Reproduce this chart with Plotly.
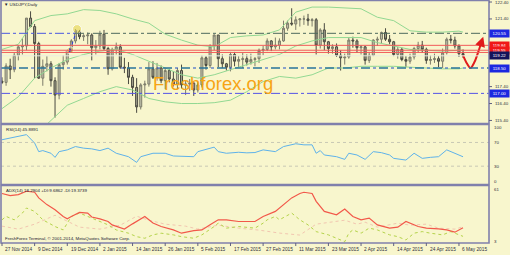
import plotly.graph_objects as go

# ---------------- data ----------------
date_labels = ["27 Nov 2014", "9 Dec 2014", "19 Dec 2014", "2 Jan 2015", "14 Jan 2015",
               "26 Jan 2015", "5 Feb 2015", "17 Feb 2015", "27 Feb 2015", "11 Mar 2015",
               "23 Mar 2015", "2 Apr 2015", "14 Apr 2015", "24 Apr 2015", "6 May 2015"]
date_label_bars = [0, 8, 16, 24, 32, 40, 48, 56, 64, 72, 80, 88, 96, 104, 112]

opens = [117.72, 117.65, 118.62, 118.40, 119.25, 119.75, 119.80, 121.45, 120.95, 119.95,
         117.90, 118.60, 118.75, 117.75, 116.90, 118.70, 118.85, 119.50, 120.10, 120.65,
         120.35, 120.40, 120.45, 119.70, 119.80, 120.50, 119.65, 118.45, 119.60, 119.75,
         118.55, 118.50, 117.95, 117.35, 116.20, 117.50, 117.55, 118.45, 117.95, 118.50,
         117.75, 118.35, 117.85, 117.55, 118.35, 117.50, 117.55, 117.60, 117.20, 117.50,
         119.10, 118.65, 119.80, 120.45, 119.05, 118.75, 118.55, 119.30, 118.90, 119.00,
         119.05, 118.85, 119.00, 119.05, 119.55, 119.60, 120.10, 119.75, 119.85, 120.10,
         120.85, 121.15, 121.10, 121.35, 121.40, 121.40, 121.30, 121.35, 119.85, 120.75,
         120.05, 119.65, 119.75, 119.25, 119.10, 119.15, 120.15, 120.10, 119.70, 119.75,
         118.95, 119.25, 120.15, 120.20, 120.60, 120.20, 120.05, 119.30, 119.60, 119.00,
         118.90, 119.15, 119.65, 119.85, 119.60, 118.95, 119.00, 119.05, 118.90, 119.40,
         120.20, 120.15, 119.80, 119.35]
highs = [117.95, 118.78, 119.05, 119.40, 119.85, 120.25, 121.45, 121.85, 121.10, 120.05,
         119.00, 119.20, 118.90, 117.95, 118.80, 119.25, 119.60, 120.20, 120.80, 120.75,
         120.50, 120.60, 120.55, 120.15, 120.70, 120.75, 119.75, 119.70, 120.00, 119.90,
         119.10, 118.85, 118.10, 117.90, 117.60, 117.75, 118.85, 118.90, 118.80, 118.65,
         118.50, 118.45, 118.30, 118.50, 118.70, 117.75, 117.85, 117.70, 117.65, 119.25,
         119.20, 119.90, 120.48, 120.45, 119.30, 118.80, 119.45, 119.45, 119.20, 119.40,
         119.30, 119.35, 119.15, 119.65, 119.80, 120.25, 120.15, 120.30, 120.25, 121.30,
         121.30, 122.03, 121.55, 121.45, 121.60, 121.70, 121.45, 121.45, 120.85, 121.15,
         120.10, 119.90, 119.95, 119.55, 119.35, 120.30, 120.35, 120.20, 119.85, 119.80,
         119.45, 120.20, 120.35, 120.65, 120.85, 120.45, 120.10, 119.75, 119.70, 119.20,
         119.35, 119.75, 120.05, 120.10, 119.70, 119.25, 119.35, 119.20, 119.65, 120.30,
         120.45, 120.35, 119.90, 119.60]
lows = [117.55, 117.45, 117.85, 118.25, 118.95, 119.30, 119.55, 120.90, 117.90, 117.85,
        117.45, 118.30, 117.40, 115.57, 116.65, 118.40, 118.70, 119.40, 119.95, 120.20,
        120.10, 119.90, 118.95, 119.30, 119.60, 119.55, 118.10, 118.35, 119.30, 118.45,
        118.20, 117.55, 116.85, 115.85, 116.05, 116.75, 117.40, 117.85, 117.75, 117.60,
        117.25, 117.65, 117.40, 117.25, 117.30, 116.90, 117.15, 116.85, 117.05, 117.35,
        118.40, 118.50, 119.55, 118.55, 118.50, 118.35, 118.30, 118.60, 118.55, 118.50,
        118.65, 118.70, 118.60, 118.80, 119.25, 119.50, 119.50, 119.60, 119.60, 120.05,
        120.70, 121.00, 120.75, 120.95, 121.05, 121.00, 120.95, 119.30, 119.65, 119.55,
        119.35, 119.35, 119.15, 118.35, 118.70, 119.05, 119.70, 119.40, 119.30, 118.70,
        118.80, 119.20, 119.80, 119.95, 120.10, 119.90, 119.20, 119.05, 118.90, 118.55,
        118.75, 119.00, 119.40, 119.40, 118.75, 118.70, 118.80, 118.55, 118.50, 119.30,
        119.95, 119.65, 119.15, 119.10]
closes = [117.65, 118.62, 118.40, 119.25, 119.75, 119.80, 121.45, 120.95, 119.95, 117.90,
          118.60, 118.75, 117.75, 116.90, 118.70, 118.85, 119.50, 120.10, 120.65, 120.35,
          120.40, 120.45, 119.70, 119.80, 120.50, 119.65, 118.45, 119.60, 119.75, 118.55,
          118.50, 117.95, 117.35, 116.20, 117.50, 117.55, 118.45, 117.95, 118.50, 117.75,
          118.35, 117.85, 117.55, 118.35, 117.50, 117.55, 117.60, 117.20, 117.50, 119.10,
          118.65, 119.80, 120.45, 119.05, 118.75, 118.55, 119.30, 118.90, 119.00, 119.05,
          118.85, 119.00, 119.05, 119.55, 119.60, 120.10, 119.75, 119.85, 120.10, 120.85,
          121.15, 121.10, 121.35, 121.40, 121.40, 121.30, 121.35, 119.85, 120.75, 120.05,
          119.65, 119.75, 119.25, 119.10, 119.15, 120.15, 120.10, 119.70, 119.75, 118.95,
          119.25, 120.15, 120.20, 120.60, 120.20, 120.05, 119.30, 119.60, 119.00, 118.90,
          119.15, 119.65, 119.85, 119.60, 118.95, 119.00, 119.05, 118.90, 119.40, 120.20,
          120.15, 119.80, 119.35, 119.25]

bb_bars = [0, 4, 8, 12, 16, 20, 24, 28, 32, 36, 40, 44, 48, 52, 56, 60, 64, 68, 72, 76,
           80, 84, 88, 92, 96, 100, 104, 108, 112, 113]
bb_upper = [119.6, 119.9, 121.3, 121.6, 121.7, 121.95, 121.9, 121.7, 121.4, 121.15, 120.5,
            120.15, 119.85, 119.75, 120.3, 120.4, 120.45, 120.75, 121.8, 122.1, 122.1, 122.05,
            122.0, 121.5, 121.3, 120.7, 120.62, 120.62, 120.68, 120.62]
bb_middle = [116.1, 116.8, 117.9, 118.5, 119.0, 119.3, 119.5, 119.6, 119.3, 118.9, 118.5,
             118.1, 117.9, 118.1, 118.4, 118.7, 119.0, 119.3, 119.8, 120.1, 120.3, 120.3,
             120.3, 120.0, 119.8, 119.6, 119.55, 119.5, 119.55, 119.55]
bb_lower = [112.6, 113.7, 114.5, 115.4, 116.3, 116.7, 117.1, 117.4, 117.2, 116.7, 116.5,
            116.4, 116.4, 116.45, 116.6, 117.1, 117.7, 118.0, 117.9, 118.1, 118.5, 118.5,
            118.6, 118.6, 118.6, 118.55, 118.5, 118.45, 118.45, 118.5]

rsi_bars = [0, 2, 4, 6, 8, 9, 10, 12, 13, 14, 16, 18, 20, 22, 24, 26, 28, 31, 33, 34, 37,
            40, 42, 47, 48, 52, 53, 55, 58, 60, 62, 64, 67, 69, 72, 74, 76, 77, 78, 79, 82,
            84, 85, 87, 89, 91, 93, 95, 96, 99, 101, 103, 105, 107, 109, 111, 113]
rsi_vals = [74.6, 77.5, 79.2, 83.2, 69.0, 54.5, 56.3, 51.8, 44.9, 54.5, 57.5, 63.1, 60.4,
            59.2, 56.3, 60.4, 51.8, 46.0, 36.4, 46.0, 51.8, 51.8, 47.2, 46.0, 54.5, 62.1,
            54.5, 51.8, 53.5, 52.5, 53.0, 57.5, 54.5, 63.1, 67.8, 66.0, 66.0, 51.8, 56.3,
            48.9, 46.0, 41.5, 51.8, 48.9, 41.5, 54.5, 52.8, 48.9, 43.2, 40.3, 51.8, 43.2,
            44.9, 46.0, 57.5, 51.8, 45.9]

adx_bars = [0, 2, 4, 6, 8, 9, 11, 13, 15, 16, 17, 19, 21, 22, 24, 26, 27, 30, 32, 35, 37,
            39, 42, 44, 47, 49, 51, 53, 55, 58, 62, 64, 67, 69, 71, 73, 74, 76, 77, 79, 82,
            84, 86, 88, 90, 92, 95, 97, 99, 102, 104, 107, 109, 111, 113]
adx_vals = [52.9, 50.8, 51.8, 55.2, 54.2, 48.5, 41.7, 36.6, 29.8, 27.4, 29.8, 33.8, 33.2,
            29.2, 27.4, 24.7, 21.3, 17.0, 22.3, 29.8, 23.1, 19.6, 16.2, 12.9, 15.5, 16.2,
            21.3, 26.4, 26.4, 24.7, 24.7, 29.8, 34.9, 41.7, 48.5, 52.9, 54.2, 52.9, 45.0,
            34.9, 31.5, 37.3, 29.8, 26.4, 28.1, 21.3, 18.0, 19.0, 24.7, 19.6, 18.0, 17.3,
            16.2, 13.9, 18.3]
pdi_bars = [0, 1, 3, 5, 6, 8, 10, 13, 15, 17, 19, 21, 23, 26, 28, 31, 33, 35, 37, 39, 42,
            44, 47, 49, 52, 53, 55, 58, 62, 64, 65, 67, 68, 70, 71, 73, 75, 77, 80, 82, 84,
            85, 86, 88, 90, 92, 95, 97, 99, 101, 103, 105, 108, 110, 112, 113]
pdi_vals = [26.4, 29.8, 26.4, 33.2, 38.3, 34.9, 26.4, 19.6, 16.2, 29.8, 33.2, 29.8, 26.4,
            21.3, 16.2, 12.9, 9.4, 7.8, 11.2, 12.9, 11.2, 9.4, 7.8, 11.2, 19.6, 23.0, 18.0,
            19.6, 18.0, 23.0, 26.4, 29.8, 26.4, 31.5, 33.2, 26.4, 21.3, 14.5, 11.2, 7.8,
            4.3, 12.9, 16.2, 12.9, 18.0, 16.2, 11.2, 9.4, 6.1, 12.9, 14.5, 12.9, 11.2, 14.5,
            11.2, 9.7]
mdi_bars = [0, 4, 8, 11, 13, 16, 19, 24, 29, 33, 36, 40, 45, 48, 53, 58, 63, 68, 73, 77,
            80, 84, 87, 89, 92, 97, 100, 104, 107, 111, 113]
mdi_vals = [20, 17, 22, 27, 31, 25, 19, 17, 21, 30, 26, 22, 20, 17, 21, 18, 16, 13, 11, 22,
            24, 26, 22, 24, 19, 23, 21, 22, 18, 17, 19.4]

# levels drawn on the main chart
level_dashdot_top = 120.55
level_support = 118.50
level_low = 117.00
red_levels = [119.84, 119.55, 119.42]
bid_level = 119.22

# trade markers and hand-drawn arrow
trade_x = [16.7, 18.4]
trade_y = [119.55, 120.80]
arrow_x = [113.0, 114.0, 114.8, 115.8, 116.8, 117.4]
arrow_y = [119.25, 118.75, 118.50, 118.85, 119.50, 119.95]

main_plain_ticks = [122.40, 121.40, 117.40, 116.40, 115.40]
main_box_ticks = [(120.55, "120.55", "#1c28e0"), (119.84, "119.84", "#f01818"),
                  (119.55, "119.55", "#f01818"), (119.22, "119.22", "#14145a"),
                  (118.50, "118.50", "#1c28e0"), (117.00, "117.00", "#1c28e0")]
rsi_ticks = [(100, 127.3), (70, None), (30, None), (0, 181.0)]
adx_ticks = ["61", "3"]

# ---------------- geometry ----------------
W, H = 510, 255
ML, MR, MT, MB = 1, 21, 1, 12
PW = W - ML - MR          # 488
PH = H - MT - MB          # 242
BAR_PX = 4.08
x_min = -1.0 / BAR_PX
x_max = x_min + PW / BAR_PX


def py(p):  # pixel y -> paper
    return (MT + PH - p) / PH


def pyd(p):  # clamped for domains
    return min(1.0, max(0.0, py(p)))


def px(p):  # pixel x -> paper
    return (p - ML) / PW


BG = "#f8f6cd"
BORDER = "#8080ac"
TXT = "#303040"
SMALL = 4.4
FONT = "Liberation Sans"

fig = go.Figure()

# Bollinger bands
for arr in (bb_upper, bb_middle, bb_lower):
    fig.add_trace(go.Scatter(x=bb_bars, y=arr, mode="lines", yaxis="y",
                             line=dict(color="#92d892", width=1), hoverinfo="skip",
                             showlegend=False))

# candles
fig.add_trace(go.Candlestick(
    x=list(range(len(closes))), open=opens, high=highs, low=lows, close=closes,
    yaxis="y", whiskerwidth=0,
    increasing=dict(line=dict(color="#7c7c6a", width=1), fillcolor="#c2c2ac"),
    decreasing=dict(line=dict(color="#4a4a40", width=1), fillcolor="#a2a28e"),
    hoverinfo="skip", showlegend=False))

# trade markers
fig.add_trace(go.Scatter(x=trade_x, y=trade_y, mode="lines", yaxis="y",
                         line=dict(color="#2a3ae0", width=1, dash="dot"),
                         hoverinfo="skip", showlegend=False))
fig.add_trace(go.Scatter(x=trade_x, y=trade_y, mode="markers", yaxis="y",
                         marker=dict(size=[7, 9], color="rgba(226,210,70,0.8)"),
                         hoverinfo="skip", showlegend=False))
fig.add_trace(go.Scatter(x=trade_x[:1], y=trade_y[:1], mode="markers", yaxis="y",
                         marker=dict(size=4, color="#1a2ad0", symbol="triangle-right"),
                         hoverinfo="skip", showlegend=False))

# red arrow
fig.add_trace(go.Scatter(x=arrow_x, y=arrow_y, mode="lines", yaxis="y",
                         line=dict(color="#e01c1c", width=2, shape="spline"),
                         hoverinfo="skip", showlegend=False, cliponaxis=False))

# RSI
fig.add_trace(go.Scatter(x=rsi_bars, y=rsi_vals, mode="lines", yaxis="y2",
                         line=dict(color="#5eb2ea", width=1), hoverinfo="skip",
                         showlegend=False))

# ADX
fig.add_trace(go.Scatter(x=mdi_bars, y=mdi_vals, mode="lines", yaxis="y3",
                         line=dict(color="#f2c6b0", width=1, dash="dot"),
                         hoverinfo="skip", showlegend=False))
fig.add_trace(go.Scatter(x=pdi_bars, y=pdi_vals, mode="lines", yaxis="y3",
                         line=dict(color="#b4d24a", width=1, dash="dot"),
                         hoverinfo="skip", showlegend=False))
fig.add_trace(go.Scatter(x=adx_bars, y=adx_vals, mode="lines", yaxis="y3",
                         line=dict(color="#f2584a", width=1.2), hoverinfo="skip",
                         showlegend=False))

shapes = []
# horizontal levels
shapes.append(dict(type="line", xref="paper", x0=0, x1=1, yref="y", y0=bid_level,
                   y1=bid_level, line=dict(color="#ecebe0", width=1)))
for lv in red_levels:
    shapes.append(dict(type="line", xref="paper", x0=0, x1=1, yref="y", y0=lv, y1=lv,
                       line=dict(color="#f25a5a", width=1)))
shapes.append(dict(type="line", xref="paper", x0=0, x1=px(75), yref="y",
                   y0=level_dashdot_top, y1=level_dashdot_top,
                   line=dict(color="#4a58e0", width=1, dash="dashdot")))
shapes.append(dict(type="line", xref="paper", x0=px(75), x1=1, yref="y",
                   y0=level_dashdot_top, y1=level_dashdot_top,
                   line=dict(color="#4e6a5e", width=1, dash="dashdot")))
shapes.append(dict(type="line", xref="paper", x0=0, x1=1, yref="y", y0=level_support,
                   y1=level_support, line=dict(color="#3cc040", width=1.2, dash="dash")))
shapes.append(dict(type="line", xref="paper", x0=0, x1=1, yref="y", y0=level_support,
                   y1=level_support, line=dict(color="#1f4fc8", width=1.2, dash="dashdot")))
shapes.append(dict(type="line", xref="paper", x0=0, x1=1, yref="y", y0=level_low,
                   y1=level_low, line=dict(color="#5454e6", width=1, dash="dashdot")))
# RSI levels
for lv in (70, 30):
    shapes.append(dict(type="line", xref="paper", x0=0, x1=1, yref="y2", y0=lv, y1=lv,
                       line=dict(color="#c8c8b4", width=1, dash="dot")))
# panel borders
for y0, y1 in ((py(123.5), py(0.5)), (py(184.5), py(124.5)), (py(243), py(185.5))):
    shapes.append(dict(type="rect", xref="paper", yref="paper", x0=0, x1=1, y0=y0, y1=y1,
                       line=dict(color=BORDER, width=1.6), fillcolor="rgba(0,0,0,0)"))
# date ticks
for b in date_label_bars:
    shapes.append(dict(type="line", xref="x", x0=b, x1=b, yref="paper", y0=py(243),
                       y1=py(246), line=dict(color="#606080", width=1)))
# right ticks
for v in main_plain_ticks:
    shapes.append(dict(type="line", xref="paper", x0=1, x1=px(492), yref="y", y0=v, y1=v,
                       line=dict(color="#606080", width=1)))

annotations = []
for b, t in zip(date_label_bars, date_labels):
    annotations.append(dict(x=b + 0.3, xref="x", y=py(245.5), yref="paper", text=t,
                            showarrow=False, xanchor="left", yanchor="top",
                            font=dict(size=SMALL + 0.4, color=TXT, family=FONT)))
for v in main_plain_ticks:
    annotations.append(dict(x=px(492.5), xref="paper", y=v, yref="y", text=f"{v:.2f}",
                            showarrow=False, xanchor="left", yanchor="middle",
                            font=dict(size=SMALL, color=TXT, family=FONT)))
box_pix = {"119.22": 55.2}
for v, t, c in main_box_ticks:
    ann = dict(x=px(489), xref="paper", text=t, showarrow=False, xanchor="left",
               yanchor="middle", bgcolor=c, borderpad=1, width=17,
               font=dict(size=SMALL, color="white", family=FONT))
    if t in box_pix:
        ann.update(y=py(box_pix[t]), yref="paper")
    else:
        ann.update(y=v, yref="y")
    annotations.append(ann)
for val, pix in rsi_ticks:
    if pix is None:
        annotations.append(dict(x=px(492), xref="paper", y=val, yref="y2", text=str(val),
                                showarrow=False, xanchor="left", yanchor="middle",
                                font=dict(size=SMALL, color=TXT, family=FONT)))
    else:
        annotations.append(dict(x=px(492), xref="paper", y=py(pix), yref="paper",
                                text=str(val), showarrow=False, xanchor="left",
                                yanchor="middle",
                                font=dict(size=SMALL, color=TXT, family=FONT)))
annotations.append(dict(x=px(492), xref="paper", y=py(189), yref="paper", text=adx_ticks[0],
                        showarrow=False, xanchor="left", yanchor="middle",
                        font=dict(size=SMALL, color=TXT, family=FONT)))
annotations.append(dict(x=px(492), xref="paper", y=py(241.5), yref="paper",
                        text=adx_ticks[1], showarrow=False, xanchor="left",
                        yanchor="middle", font=dict(size=SMALL, color=TXT, family=FONT)))

# panel texts
annotations.append(dict(x=px(2), xref="paper", y=py(5), yref="paper",
                        text="\u25bc USDJPY,Daily", showarrow=False, xanchor="left",
                        yanchor="middle", font=dict(size=SMALL, color="#202030", family=FONT)))
annotations.append(dict(x=px(3.5), xref="paper", y=py(129.5), yref="paper",
                        text="RSI(14) 45.8891", showarrow=False, xanchor="left",
                        yanchor="middle", font=dict(size=SMALL, color="#202030", family=FONT)))
annotations.append(dict(x=px(3.5), xref="paper", y=py(190.5), yref="paper",
                        text="ADX(14) 18.2904 +DI:9.6862 -DI:19.3739", showarrow=False,
                        xanchor="left", yanchor="middle",
                        font=dict(size=SMALL, color="#202030", family=FONT)))
annotations.append(dict(x=px(3), xref="paper", y=py(238.5), yref="paper",
                        text="FreshForex Terminal, \u00a9 2001-2014, MetaQuotes Software Corp.",
                        showarrow=False, xanchor="left", yanchor="middle",
                        font=dict(size=SMALL, color="#202030", family=FONT)))
# watermark
annotations.append(dict(x=px(213), xref="paper", y=py(84), yref="paper",
                        text="Freshforex.org", showarrow=False, xanchor="center",
                        yanchor="middle",
                        font=dict(size=18.5, color="#f7a414", family=FONT)))
# arrowhead of the red arrow
annotations.append(dict(x=117.95, y=120.35, xref="x", yref="y", ax=arrow_x[-1],
                        ay=arrow_y[-1], axref="x", ayref="y", text="", showarrow=True,
                        arrowhead=2, arrowsize=1.0, arrowwidth=2, arrowcolor="#e01c1c"))

axis_common = dict(showgrid=False, zeroline=False, showticklabels=False, ticks="",
                   showline=False, fixedrange=True)
fig.update_layout(
    width=W, height=H, margin=dict(l=ML, r=MR, t=MT, b=MB),
    paper_bgcolor=BG, plot_bgcolor=BG, showlegend=False,
    xaxis=dict(range=[x_min, x_max], anchor="y3", rangeslider=dict(visible=False),
               **axis_common),
    yaxis=dict(domain=[pyd(123.5), pyd(0.5)], range=[115.22, 122.46], **axis_common),
    yaxis2=dict(domain=[pyd(184.5), pyd(124.5)], range=[-0.9, 100.3], **axis_common),
    yaxis3=dict(domain=[pyd(243), pyd(185.5)], range=[3, 61], **axis_common),
    shapes=shapes, annotations=annotations,
)

fig.write_html("out.html")
